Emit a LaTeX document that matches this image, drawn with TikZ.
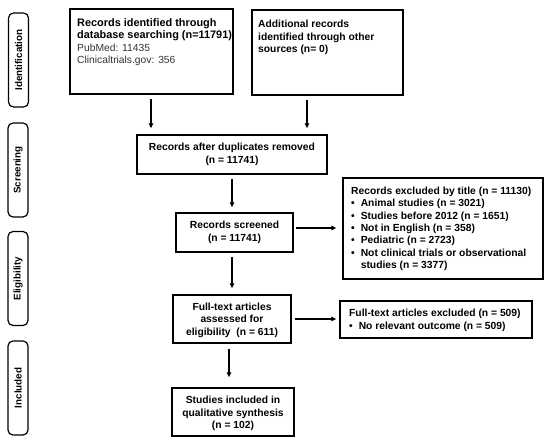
\documentclass[tikz,border=0pt]{standalone}
\usepackage{fontspec}
\setmainfont{Liberation Sans}
\usetikzlibrary{arrows.meta,calc}
\begin{document}
\begin{tikzpicture}[x=1pt,y=-1pt,
  box/.style={draw,line width=1.3pt,inner sep=0pt},
  txt/.style={inner sep=0pt,font=\fontsize{10.3}{12.5}\selectfont\bfseries},
  ctxt/.style={txt,align=center},
  ltxt/.style={txt,align=left,anchor=north west},
  side/.style={draw,line width=1.2pt,rounded corners=5pt,minimum width=20pt,minimum height=94pt,inner sep=0pt},
  sidetxt/.style={rotate=90,font=\fontsize{9.8}{12}\selectfont\bfseries},
  arr/.style={line width=1.3pt,-{Triangle[length=5pt,width=4.5pt]}}]
\useasboundingbox (0,0) rectangle (550,443);
% side labels
\node[side] (s1) at (18.5,60) {}; \node[sidetxt] (s1t) at (s1) {Identification};
\node[side] (s2) at (18,170) {}; \node[sidetxt] (s2t) at (s2) {Screening};
\node[side] (s3) at (18,278.5) {}; \node[sidetxt] (s3t) at (s3) {Eligibility};
\node[side] (s4) at (18,388) {}; \node[sidetxt] (s4t) at (s4) {Included};
% boxes
\node[box,minimum width=163pt,minimum height=85pt] (b1) at (151.5,51.5) {};
\node[ltxt] (b1t) at (77,18) {{\fontsize{10.9}{12.5}\selectfont Records identified through}\\{\fontsize{10.9}{12.5}\selectfont database searching (n=11791)}\\{\mdseries\color{black!80}PubMed: 11435}\\{\mdseries\color{black!80}Clinicaltrials.gov: 356}};
\node[box,minimum width=151pt,minimum height=85pt] (b2) at (327.5,52.5) {};
\node[ltxt] (b2t) at (258,20) {Additional records\\identified through other\\sources (n= 0)};
\node[box,minimum width=190pt,minimum height=39pt] (b3) at (232,154.5) {};
\node[ctxt] (b3t) at (b3) {Records after duplicates removed\\(n = 11741)};
\node[box,minimum width=117pt,minimum height=39pt] (b4) at (234.5,232.5) {};
\node[ctxt] (b4t) at (b4) {Records screened\\(n = 11741)};
\node[box,minimum width=200pt,minimum height=101pt] (b5) at (443,228.5) {};
\node[ltxt,font=\fontsize{10.3}{12.3}\selectfont\bfseries] (b5t) at (351,187) {Records excluded by title (n = 11130)\\
\textbullet\hspace{6pt}Animal studies (n = 3021)\\
\textbullet\hspace{6pt}Studies before 2012 (n = 1651)\\
\textbullet\hspace{6pt}Not in English (n = 358)\\
\textbullet\hspace{6pt}Pediatric (n = 2723)\\
\textbullet\hspace{6pt}Not clinical trials or observational\\
\phantom{\textbullet}\hspace{6pt}studies (n = 3377)};
\node[box,minimum width=118pt,minimum height=48pt] (b6) at (232,319) {};
\node[ctxt] (b6t) at ($(b6)+(0,1)$) {Full-text articles\\assessed for\\eligibility\ \ (n = 611)};
\node[box,minimum width=192pt,minimum height=37pt] (b7) at (436,319.5) {};
\node[ltxt] (b7t) at (349,309) {Full-text articles excluded (n = 509)\\
\textbullet\hspace{6pt}No relevant outcome (n = 509)};
\node[box,minimum width=122pt,minimum height=48pt] (b8) at (233,412) {};
\node[ctxt] (b8t) at ($(b8)+(0,1.5)$) {Studies included in\\qualitative synthesis\\(n = 102)};
% connectors
\coordinate (x1) at (151,0);
\coordinate (x2) at (307,0);
\coordinate (x3) at (232,0);
\coordinate (x4) at (229,0);
\coordinate (y5) at (0,228);
\draw[arr,shorten <=4pt,shorten >=6pt] (b1.south -| x1) -- (b3.north -| x1);
\draw[arr,shorten <=4pt,shorten >=6pt] (b2.south -| x2) -- (b3.north -| x2);
\draw[arr,shorten <=4pt,shorten >=5pt] (b3.south -| x3) -- (b4.north -| x3);
\draw[arr,shorten <=2pt,shorten >=6pt] (b4.east |- y5) -- (b5.west |- y5);
\draw[arr,shorten <=4pt,shorten >=6pt] (b4.south -| x3) -- (b6.north -| x3);
\draw[arr,shorten <=3pt,shorten >=3pt] (b6.east) -- (b6.east -| b7.west);
\draw[arr,shorten <=5pt,shorten >=10pt] (b6.south -| x4) -- (b8.north -| x4);
\end{tikzpicture}
\end{document}
